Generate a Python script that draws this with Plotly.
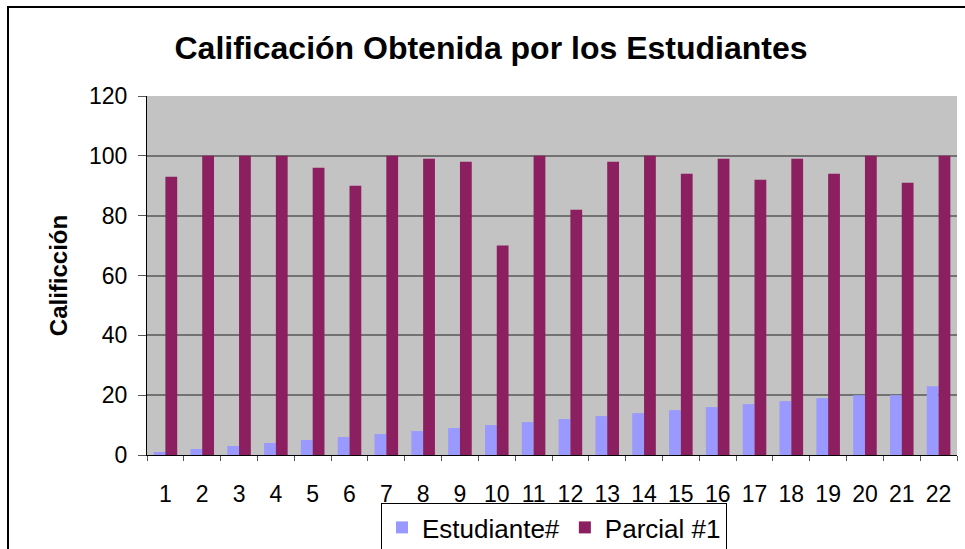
import plotly.graph_objects as go

categories = [str(i) for i in range(1, 23)]
estudiante = [1, 2, 3, 4, 5, 6, 7, 8, 9, 10, 11, 12, 13, 14, 15, 16, 17, 18, 19, 20, 20, 23]
parcial1 = [93, 100, 100, 100, 96, 90, 100, 99, 98, 70, 100, 82, 98, 100, 94, 99, 92, 99, 94, 100, 91, 100]
y_ticks = [0, 20, 40, 60, 80, 100, 120]

fig = go.Figure()
fig.add_trace(go.Bar(x=categories, y=estudiante, name="Estudiante#",
                     marker=dict(color="#9999ff", line=dict(color="#9999ff", width=0))))
fig.add_trace(go.Bar(x=categories, y=parcial1, name="Parcial #1",
                     marker=dict(color="#8b1f5f", line=dict(color="#8b1f5f", width=0))))

L, R, T, B = 147, 8, 96, 94
W, H = 965, 549
pw, ph = W - L - R, H - T - B

def px(x):
    return (x - L) / pw

def py(y):
    return (H - B - y) / ph

fig.update_layout(
    width=W, height=H,
    margin=dict(l=L, r=R, t=T, b=B, autoexpand=False),
    paper_bgcolor="white",
    plot_bgcolor="#c3c3c3",
    barmode="group",
    bargap=0.36,
    bargroupgap=0.0,
    font=dict(family="Liberation Sans, Arial", size=23, color="black"),
    title=dict(text="<b>Calificación Obtenida por los Estudiantes</b>",
               x=px(491), xref="paper", xanchor="center",
               y=1 - 48 / H, yanchor="middle",
               font=dict(size=32, family="Liberation Sans, Arial")),
    showlegend=True,
    legend=dict(orientation="h", x=px(381), xanchor="left", y=py(503), yanchor="top",
                bordercolor="black", borderwidth=1, bgcolor="white",
                font=dict(size=26), itemsizing="constant", traceorder="normal",
                itemwidth=30, tracegroupgap=0),
    xaxis=dict(type="category", showgrid=False, showline=True, linecolor="black",
               ticks="outside", ticklen=5, tickcolor="#555555", tickson="boundaries",
               tickfont=dict(size=23), ticklabelstandoff=18),
    yaxis=dict(range=[0, 120], tickvals=y_ticks, showgrid=True, gridcolor="#727272",
               gridwidth=2, showline=True, linecolor="black", ticks="outside",
               ticklen=8, tickcolor="#555555", zeroline=False,
               tickfont=dict(size=23), ticklabelstandoff=6,
               title=dict(text="<b>Calificción</b>", font=dict(size=24), standoff=14)),
    shapes=[
        dict(type="rect", xref="paper", yref="paper",
             x0=px(8), x1=px(975), y0=py(570), y1=py(7),
             line=dict(color="black", width=2), fillcolor="rgba(0,0,0,0)", layer="below"),
    ],
)

fig.write_html("out.html", config={"displayModeBar": False},
               post_script="document.body.style.margin='0';document.body.style.overflow='hidden';")
